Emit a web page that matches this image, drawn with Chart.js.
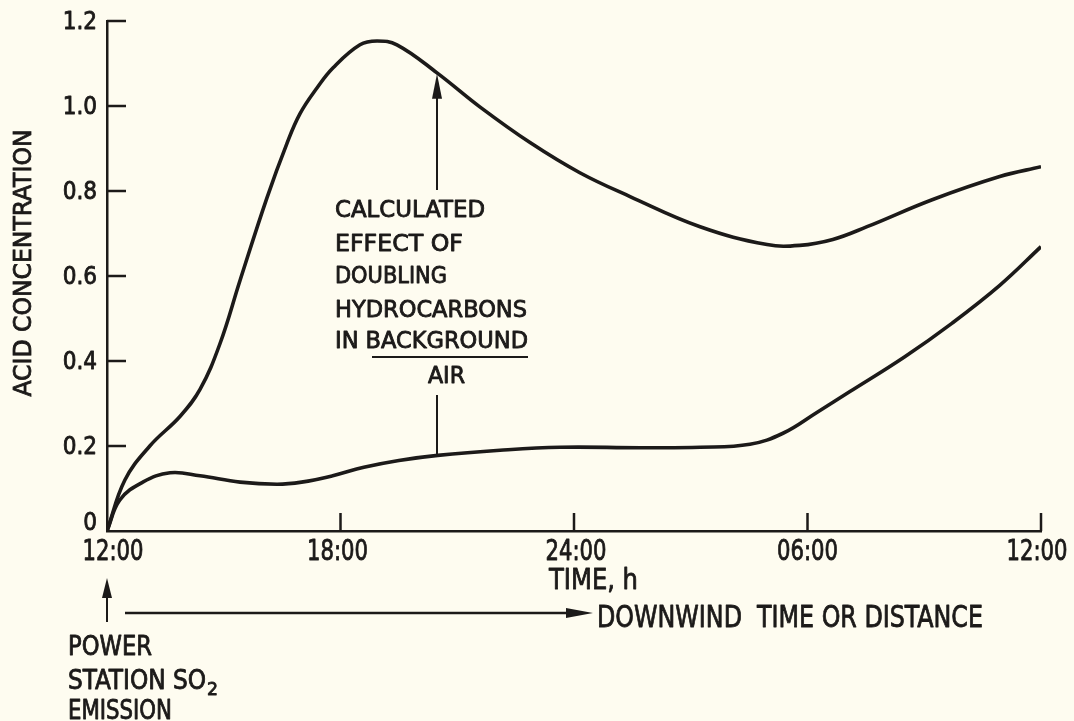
<!DOCTYPE html>
<html>
<head>
<meta charset="utf-8">
<script src="https://cdn.jsdelivr.net/npm/chart.js@4/dist/chart.umd.min.js"></script>
<style>
  html, body { margin: 0; padding: 0; background: #fefcf0; }
  #wrap { width: 1074px; height: 721px; }
</style>
</head>
<body>
<div id="wrap"><canvas id="c" width="1074" height="721"></canvas></div>
<script>
// ---- data (hours after 12:00 noon, acid concentration) ----
const xTickLabels = ['12:00', '18:00', '24:00', '06:00', '12:00'];
const yTickLabels = ['0', '0.2', '0.4', '0.6', '0.8', '1.0', '1.2'];

const upperHours  = [0, 0.46, 1.1, 1.88, 2.39, 2.9, 3.42, 4.11, 4.62, 4.96, 5.40, 5.81, 6.5, 6.94, 7.45, 8.48, 9.58, 10.87, 12.15, 13.44, 15.24, 16.96, 17.8, 18.65, 19.53, 21.22, 22.94, 24];
const upperValues = [0, 0.12, 0.20, 0.27, 0.333, 0.44, 0.59, 0.784, 0.911, 0.982, 1.043, 1.09, 1.144, 1.153, 1.144, 1.078, 0.998, 0.914, 0.843, 0.787, 0.716, 0.674, 0.672, 0.686, 0.716, 0.78, 0.834, 0.857];

const lowerHours  = [0, 0.33, 0.92, 1.62, 2.39, 3.42, 4.37, 5.0, 5.8, 6.6, 7.5, 8.5, 10.1, 11.64, 13.7, 15.24, 16.52, 17.37, 18.24, 19.09, 20.5, 21.7, 22.94, 24];
const lowerValues = [0, 0.073, 0.115, 0.137, 0.13, 0.115, 0.11, 0.115, 0.13, 0.15, 0.166, 0.178, 0.19, 0.197, 0.196, 0.197, 0.204, 0.23, 0.279, 0.328, 0.41, 0.488, 0.578, 0.669];

const annotationLines = ['CALCULATED', 'EFFECT OF', 'DOUBLING', 'HYDROCARBONS', 'IN BACKGROUND', 'AIR'];
const arrowHour = 8.48;

const INK = '#1c1a19';
const FONT = '"DejaVu Sans Condensed", "DejaVu Sans", sans-serif';

function pts(xs, ys) { return xs.map((x, i) => ({ x: x, y: ys[i] })); }

// draw text; w = target width (0 = natural), kx = horizontal factor when w is 0
function txt(ctx, s, x, y, size, w, align, kx) {
  ctx.save();
  ctx.font = size + 'px ' + FONT;
  ctx.fillStyle = INK;
  ctx.strokeStyle = INK;
  const m = ctx.measureText(s).width;
  const k = w ? w / m : (kx || 1);
  ctx.translate(x, y);
  ctx.scale(k, 1);
  ctx.textAlign = align || 'left';
  ctx.textBaseline = 'alphabetic';
  ctx.lineWidth = 0.8;
  ctx.lineJoin = 'round';
  ctx.fillText(s, 0, 0);
  ctx.strokeText(s, 0, 0);
  ctx.restore();
}

function arrowHead(ctx, tx, ty, dx, dy, len, half) {
  const bx = tx - dx * len, by = ty - dy * len;
  const px = -dy, py = dx;
  ctx.beginPath();
  ctx.moveTo(tx, ty);
  ctx.lineTo(bx + px * half, by + py * half);
  ctx.lineTo(bx - px * half, by - py * half);
  ctx.closePath();
  ctx.fill();
}

const decor = {
  id: 'decor',
  afterDraw(chart) {
    const ctx = chart.ctx;
    const xs = chart.scales.x, ys = chart.scales.y;
    const x0 = xs.getPixelForValue(0), yb = ys.getPixelForValue(0);
    ctx.save();
    ctx.strokeStyle = INK;
    ctx.fillStyle = INK;
    ctx.lineCap = 'butt';
    ctx.lineWidth = 2.5;
    for (let v = 1; v <= 6; v++) {
      const y = ys.getPixelForValue(v * 0.2);
      ctx.beginPath(); ctx.moveTo(x0, y); ctx.lineTo(x0 + 19, y); ctx.stroke();
    }
    for (let h = 6; h <= 24; h += 6) {
      const x = xs.getPixelForValue(h);
      ctx.beginPath(); ctx.moveTo(x, yb); ctx.lineTo(x, yb - 18); ctx.stroke();
    }
    ctx.restore();

    // tick labels at the scale's own tick positions
    const xOff = [6, -3, 2, 0, -4];
    xs.ticks.forEach((t, i) => {
      txt(ctx, xTickLabels[i], xs.getPixelForValue(t.value) + xOff[i], 560, 28, 0, 'center', 0.84);
    });
    ys.ticks.forEach((t, i) => {
      const y = ys.getPixelForValue(t.value);
      txt(ctx, yTickLabels[i], 97, (i === 0 ? y - 1 : y + 8), 24, 0, 'right');
    });

    // y-axis title
    ctx.save();
    ctx.font = '25px ' + FONT;
    ctx.fillStyle = INK; ctx.strokeStyle = INK; ctx.lineWidth = 0.8;
    const tw = ctx.measureText('ACID CONCENTRATION').width;
    ctx.translate(24, 263);
    ctx.rotate(-Math.PI / 2);
    ctx.scale(267 / tw, 1);
    ctx.textAlign = 'center';
    ctx.textBaseline = 'middle';
    ctx.fillText('ACID CONCENTRATION', 0, 0);
    ctx.strokeText('ACID CONCENTRATION', 0, 0);
    ctx.restore();

    const ann = [
      [annotationLines[0], 335, 217, 150],
      [annotationLines[1], 335, 251, 128],
      [annotationLines[2], 335, 283, 112],
      [annotationLines[3], 335, 317, 192],
      [annotationLines[4], 335, 348, 193],
      [annotationLines[5], 428, 383, 37]
    ];
    ann.forEach(a => txt(ctx, a[0], a[1], a[2], 23, a[3], 'left'));

    ctx.save();
    ctx.strokeStyle = INK; ctx.fillStyle = INK;
    ctx.lineWidth = 2;
    ctx.beginPath(); ctx.moveTo(372, 357); ctx.lineTo(528, 357); ctx.stroke();

    const ax = xs.getPixelForValue(arrowHour);
    const topTip = ys.getPixelForValue(1.076);
    const lowHit = ys.getPixelForValue(0.178);
    ctx.lineWidth = 2;
    ctx.beginPath(); ctx.moveTo(ax, 190); ctx.lineTo(ax, topTip + 20); ctx.stroke();
    arrowHead(ctx, ax, topTip, 0, -1, 25, 5);
    ctx.beginPath(); ctx.moveTo(ax, 395); ctx.lineTo(ax, lowHit); ctx.stroke();

    ctx.lineWidth = 2;
    ctx.beginPath(); ctx.moveTo(x0, 622); ctx.lineTo(x0, 595); ctx.stroke();
    arrowHead(ctx, x0, 578, 0, -1, 20, 5);
    ctx.lineWidth = 2.5;
    ctx.beginPath(); ctx.moveTo(125, 613); ctx.lineTo(570, 613); ctx.stroke();
    arrowHead(ctx, 593, 613, 1, 0, 27, 5);
    ctx.restore();

    txt(ctx, 'TIME, h', 549, 589, 29, 89, 'left');
    txt(ctx, 'DOWNWIND  TIME OR DISTANCE', 597, 627, 31, 386, 'left');
    txt(ctx, 'POWER', 68, 655, 26, 84, 'left');
    txt(ctx, 'STATION SO', 68, 689, 26, 138, 'left');
    txt(ctx, '2', 207, 695, 18, 11, 'left');
    txt(ctx, 'EMISSION', 68, 719, 26, 104, 'left');
  }
};

new Chart(document.getElementById('c'), {
  type: 'line',
  data: {
    datasets: [
      { label: 'Doubled hydrocarbons', data: pts(upperHours, upperValues), borderColor: INK, borderWidth: 3.6, pointRadius: 0, fill: false, tension: 0.4 },
      { label: 'Base case', data: pts(lowerHours, lowerValues), borderColor: INK, borderWidth: 3.6, pointRadius: 0, fill: false, tension: 0.4 }
    ]
  },
  options: {
    responsive: false,
    animation: false,
    layout: { padding: { top: 21, right: 33, left: 0, bottom: 0 } },
    plugins: { legend: { display: false }, tooltip: { enabled: false } },
    scales: {
      x: {
        type: 'linear', min: 0, max: 24,
        grid: { display: false, drawTicks: false },
        border: { display: true, color: INK, width: 2.5 },
        ticks: { stepSize: 6, display: false },
        afterFit: s => { s.height = 190; }
      },
      y: {
        min: 0, max: 1.2,
        grid: { display: false, drawTicks: false },
        border: { display: true, color: INK, width: 2.5 },
        ticks: { stepSize: 0.2, display: false },
        afterFit: s => { s.width = 107; }
      }
    }
  },
  plugins: [decor]
});
</script>
</body>
</html>
